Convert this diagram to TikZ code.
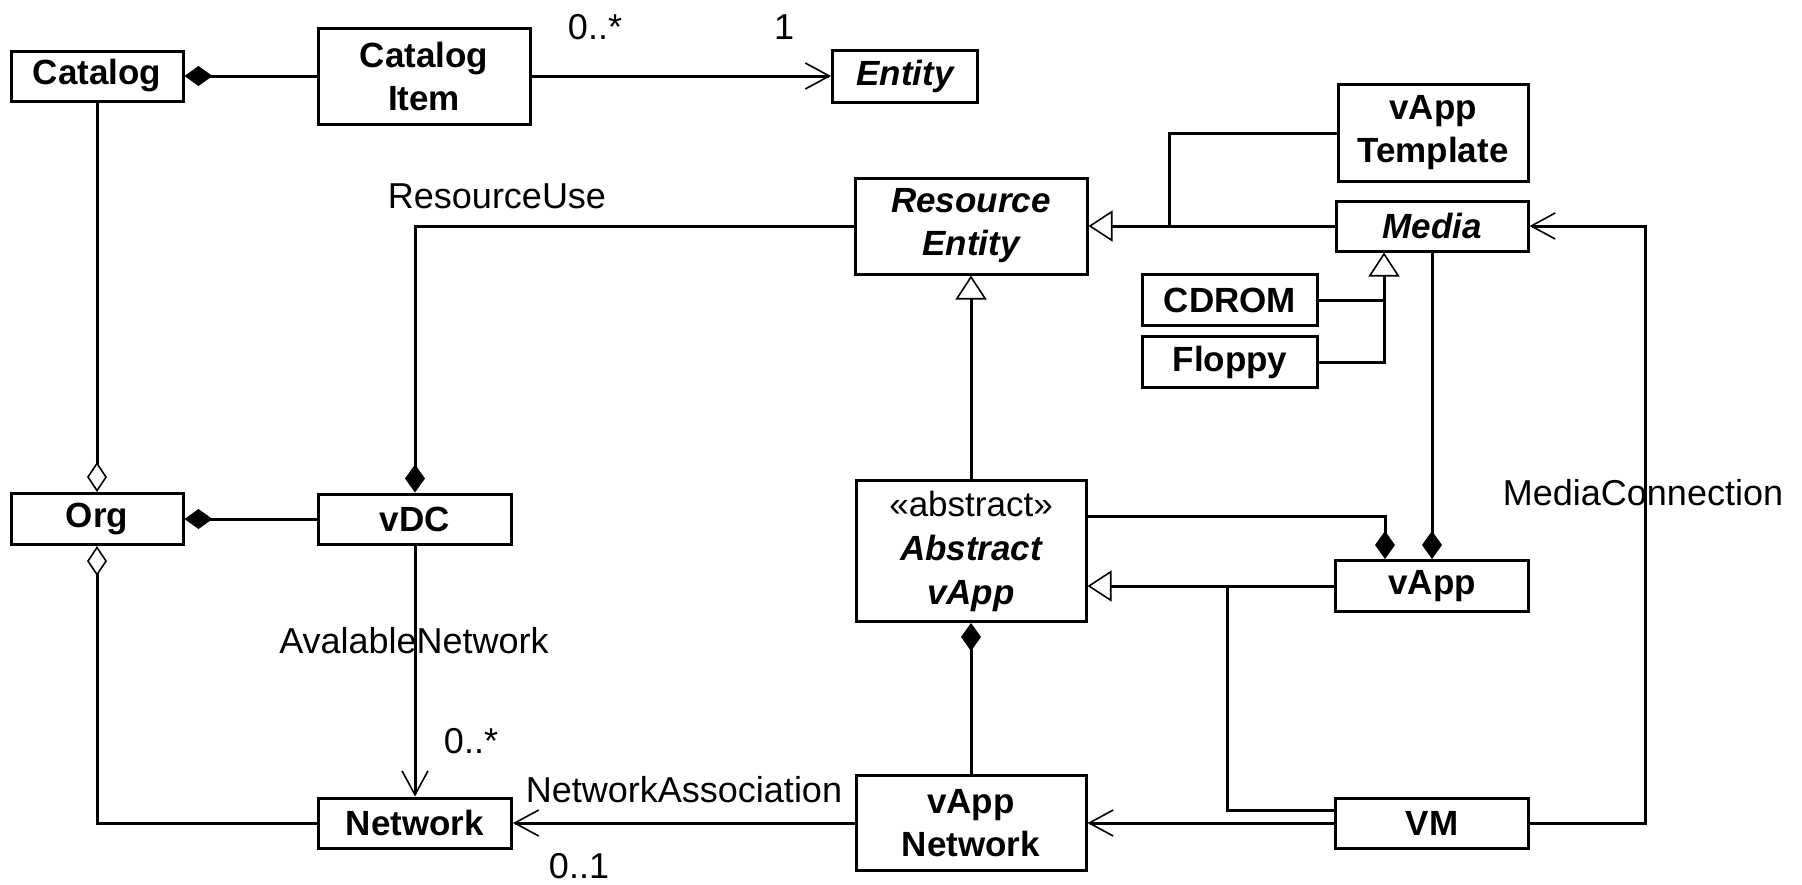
\documentclass[tikz,border=0pt]{standalone}
\usepackage{fontspec}
\setmainfont{Liberation Sans}
\usetikzlibrary{arrows.meta}
\begin{document}
\begin{tikzpicture}[x=0.5pt,y=-0.5pt,
  cls/.style={draw, line width=1.5pt, align=center, inner sep=0pt, font=\fontsize{17.5}{21.5}\selectfont\bfseries},
  lab/.style={font=\fontsize{18}{21}\selectfont, inner sep=0pt},
  conn/.style={line width=1.5pt},
  comp/.style={conn, -{Diamond[length=14pt,width=10pt]}},
  agg/.style={conn, -{Diamond[open,length=15pt,width=10pt,line width=0.8pt,fill=white]}},
  nav/.style={conn, -{Straight Barb[length=12pt,width=13pt,line width=0.8pt]}},
  gen/.style={conn, -{Triangle[open,length=12pt,width=15.5pt,line width=0.8pt,fill=white]}},
]
\useasboundingbox (0,0) rectangle (1802,884);

% classes
\node[cls, minimum width=86pt, minimum height=25pt] (cat) at (97,76) {Catalog};
\node[cls, minimum width=106pt, minimum height=48pt] (item) at (424,76) {Catalog\\Item};
\node[cls, minimum width=72.5pt, minimum height=26pt] (ent) at (905,76) {\itshape Entity};
\node[cls, minimum width=95pt, minimum height=48.5pt] (tmpl) at (1433,133) {vApp\\Template};
\node[cls, minimum width=116pt, minimum height=48pt] (res) at (971,226) {\itshape Resource\\\itshape Entity};
\node[cls, minimum width=96pt, minimum height=25pt] (media) at (1432,226) {\itshape Media};
\node[cls, minimum width=87.5pt, minimum height=25.5pt] (cd) at (1230,300) {CDROM};
\node[cls, minimum width=87.5pt, minimum height=25.5pt] (fl) at (1230,362) {Floppy};
\node[cls, minimum width=86pt, minimum height=25.5pt] (org) at (97,519) {Org};
\node[cls, minimum width=96.5pt, minimum height=25pt] (vdc) at (415,519) {vDC};
\node[cls, minimum width=115pt, minimum height=70.5pt, font=\fontsize{17.5}{22}\selectfont] (abs) at (971,551) {«abstract»\\\bfseries\itshape Abstract\\\bfseries\itshape vApp};
\node[cls, minimum width=96.5pt, minimum height=25.5pt] (vapp) at (1432,586) {vApp};
\node[cls, minimum width=96.5pt, minimum height=25pt] (net) at (415,823) {Network};
\node[cls, minimum width=115pt, minimum height=47.5pt] (vnet) at (971,823) {vApp\\Network};
\node[cls, minimum width=96.5pt, minimum height=25pt] (vm) at (1432,823) {VM};

% helper coordinates
\coordinate (j1) at (1227,586);
\coordinate (j2) at (1169,226);
\coordinate (j3) at (1384,300);
\coordinate (mc) at (1645,823);

% connectors
\draw[comp] (item.west) -- (cat.east);
\draw[nav] (item.east) -- (ent.west);
\draw[agg] (cat.south) -- (org.north);
\draw[agg] (net.west) -| (org.south);
\draw[comp] (vdc.west) -- (org.east);
\draw[comp] (res.west) -| (vdc.north);
\draw[nav] (vdc.south) -- (net.north);
\draw[nav] (vnet.west) -- (net.east);
\draw[gen] (abs.north) -- (res.south);
\draw[comp] (vnet.north) -- (abs.south);
\draw[comp] ([yshift=17.5pt]abs.east) -| ([xshift=-23.5pt]vapp.north);
\draw[comp] (media.south) -- (vapp.north);
\draw[gen] (vapp.west) -- (abs.east |- vapp.west);
\draw[conn] ([yshift=6.5pt]vm.west) -| (j1);
\draw[nav] (vm.west) -- (vnet.east);
\draw[nav] (vm.east) -- (mc) |- (media.east);
\draw[gen] (media.west) -- (res.east);
\draw[conn] (tmpl.west) -| (j2);
\draw[gen] (fl.east) -| ([xshift=-24pt]media.south);
\draw[conn] (cd.east) -- (j3);

% labels
\node[lab] (l1) at (595,27) {0..*};
\node[lab] (l2) at (784,27) {1};
\node[lab] (l3) at (497,196) {ResourceUse};
\node[lab] (l4) at (414,641) {AvalableNetwork};
\node[lab] (l5) at (471,741) {0..*};
\node[lab] (l6) at (684,790) {NetworkAssociation};
\node[lab] (l7) at (579,866) {0..1};
\node[lab] (l8) at (1643,493) {MediaConnection};
\end{tikzpicture}
\end{document}
